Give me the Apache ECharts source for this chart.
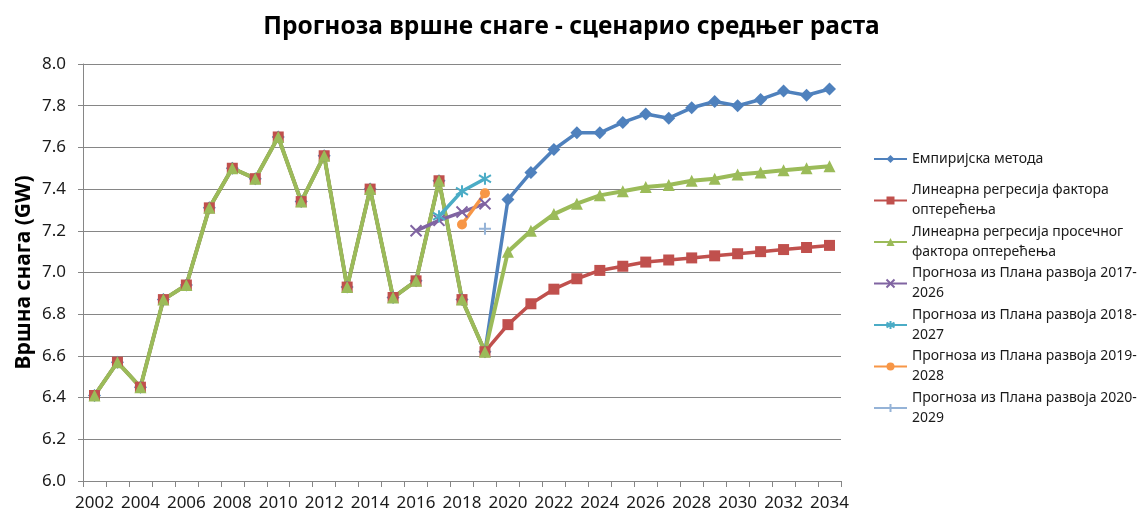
<!DOCTYPE html>
<html>
<head>
<meta charset="utf-8">
<title>Прогноза вршне снаге</title>
<script src="https://cdn.jsdelivr.net/npm/echarts@6/dist/echarts.min.js"></script>
<style>
	html, body { margin: 0; padding: 0; background: #fff; }
	#myChart { width: 1143px; height: 515px; }
</style>
</head>
<body>
<div id="myChart"></div>
<script>
	// годинe на x оси
	var years = ['2002', '2003', '2004', '2005', '2006', '2007', '2008', '2009', '2010', '2011',
		'2012', '2013', '2014', '2015', '2016', '2017', '2018', '2019', '2020', '2021', '2022',
		'2023', '2024', '2025', '2026', '2027', '2028', '2029', '2030', '2031', '2032', '2033', '2034'];

	// остварена вршна снага 2002-2019 (GW)
	var measured = [6.41, 6.57, 6.45, 6.87, 6.94, 7.31, 7.50, 7.45, 7.65, 7.34,
		7.56, 6.93, 7.40, 6.88, 6.96, 7.44, 6.87, 6.62];

	// прогнозе 2020-2034
	var empirical = [7.35, 7.48, 7.59, 7.67, 7.67, 7.72, 7.76, 7.74, 7.79, 7.82, 7.80, 7.83, 7.87, 7.85, 7.88];
	var linReg = [6.75, 6.85, 6.92, 6.97, 7.01, 7.03, 7.05, 7.06, 7.07, 7.08, 7.09, 7.10, 7.11, 7.12, 7.13];
	var avgLinReg = [7.10, 7.20, 7.28, 7.33, 7.37, 7.39, 7.41, 7.42, 7.44, 7.45, 7.47, 7.48, 7.49, 7.50, 7.51];

	// прогнозе из планова развоја
	var plan2017Years = ['2016', '2017', '2018', '2019'];
	var plan2017 = [7.20, 7.25, 7.29, 7.33];
	var plan2018Years = ['2017', '2018', '2019'];
	var plan2018 = [7.27, 7.39, 7.45];
	var plan2019Years = ['2018', '2019'];
	var plan2019 = [7.23, 7.38];
	var plan2020Years = ['2019'];
	var plan2020 = [7.21];

	var yTicks = { min: 6.0, max: 8.0, step: 0.2 };

	var names = [
		'Емпиријска метода',
		'Линеарна регресија фактора оптерећења',
		'Линеарна регресија просечног фактора оптерећења',
		'Прогноза из Плана развоја 2017-2026',
		'Прогноза из Плана развоја 2018-2027',
		'Прогноза из Плана развоја 2019-2028',
		'Прогноза из Плана развоја 2020-2029'
	];
	var legendLabels = [
		'Емпиријска метода',
		'Линеарна регресија фактора\nоптерећења',
		'Линеарна регресија просечног\nфактора оптерећења',
		'Прогноза из Плана развоја 2017-\n2026',
		'Прогноза из Плана развоја 2018-\n2027',
		'Прогноза из Плана развоја 2019-\n2028',
		'Прогноза из Плана развоја 2020-\n2029'
	];
	var colors = ['#4F81BD', '#C0504D', '#9BBB59', '#8064A2', '#4BACC6', '#F79646', '#95B3D7'];

	var crossPath = 'path://M0,0L10,10M10,0L0,10';
	var starPath = 'path://M5,0L5,10M0,2L10,8M0,8L10,2';
	var plusPath = 'path://M5,0L5,10M0,5L10,5';

	function pairs(xs, vs) {
		var out = [];
		for (var i = 0; i < xs.length; i++) {
			out.push([xs[i], vs[i]]);
		}
		return out;
	}

	function lineSeries(i, data, symbol, size, strokeOnly, width) {
		return {
			name: names[i],
			type: 'line',
			data: data,
			symbol: symbol,
			symbolSize: size,
			showAllSymbol: true,
			lineStyle: { color: colors[i], width: width },
			itemStyle: {
				color: strokeOnly ? 'none' : colors[i],
				borderColor: colors[i],
				borderWidth: strokeOnly ? 2 : 0
			}
		};
	}

	var series = [
		lineSeries(0, measured.concat(empirical), 'diamond', 13, false, 3.5),
		lineSeries(1, measured.concat(linReg), 'rect', 11, false, 3.5),
		lineSeries(2, measured.concat(avgLinReg), 'triangle', 12, false, 4),
		lineSeries(3, pairs(plan2017Years, plan2017), crossPath, 11, true, 3.5),
		lineSeries(4, pairs(plan2018Years, plan2018), starPath, 12, true, 3.5),
		lineSeries(5, pairs(plan2019Years, plan2019), 'circle', 10, false, 3.5),
		lineSeries(6, pairs(plan2020Years, plan2020), plusPath, 12, true, 3.5)
	];

	var legendData = names.map(function (n, i) {
		return { name: n, textStyle: { padding: i === 0 ? [20, 0, 20, 0] : [20, 0, 0, 0] } };
	});

	var option = {
		animation: false,
		backgroundColor: '#fff',
		color: colors,
		title: {
			text: 'Прогноза вршне снаге - сценарио средњег раста',
			left: 'center',
			top: 10,
			textStyle: { fontFamily: 'Noto Sans', fontSize: 24.5, fontWeight: 'bold', color: '#000' }
		},
		legend: {
			orient: 'vertical',
			left: 873,
			top: 129,
			padding: 0,
			itemGap: -18.5,
			itemWidth: 33,
			itemHeight: 10,
			data: legendData,
			formatter: function (name) {
				return legendLabels[names.indexOf(name)];
			},
			textStyle: { fontFamily: 'Noto Sans', fontSize: 14, lineHeight: 20, color: '#1a1a1a' }
		},
		grid: {
			left: 83,
			right: 302,
			top: 64,
			bottom: 34,
			outerBoundsMode: 'none'
		},
		xAxis: {
			type: 'category',
			data: years,
			boundaryGap: true,
			axisLine: { lineStyle: { color: '#868686', width: 1 } },
			axisTick: { show: true, interval: 0, length: 6, lineStyle: { color: '#868686' } },
			axisLabel: { interval: 1, margin: 14, fontFamily: 'Noto Sans', fontSize: 17, color: '#1a1a1a' },
			splitLine: { show: false }
		},
		yAxis: {
			type: 'value',
			min: yTicks.min,
			max: yTicks.max,
			interval: yTicks.step,
			name: 'Вршна снага (GW)',
			nameLocation: 'middle',
			nameGap: 48,
			nameMoveOverlap: false,
			nameRotate: 90,
			nameTextStyle: { fontFamily: 'Noto Sans', fontSize: 21, fontWeight: 'bold', color: '#000' },
			axisLine: { show: true, lineStyle: { color: '#868686', width: 1 } },
			axisTick: { show: true, length: 5, lineStyle: { color: '#868686' } },
			axisLabel: {
				margin: 17,
				fontFamily: 'Noto Sans',
				fontSize: 17,
				color: '#1a1a1a',
				formatter: function (v) { return v.toFixed(1); }
			},
			splitLine: { lineStyle: { color: '#868686', width: 1 } }
		},
		series: series
	};

	var myChart = echarts.init(document.getElementById('myChart'));
	myChart.setOption(option);
</script>
</body>
</html>
